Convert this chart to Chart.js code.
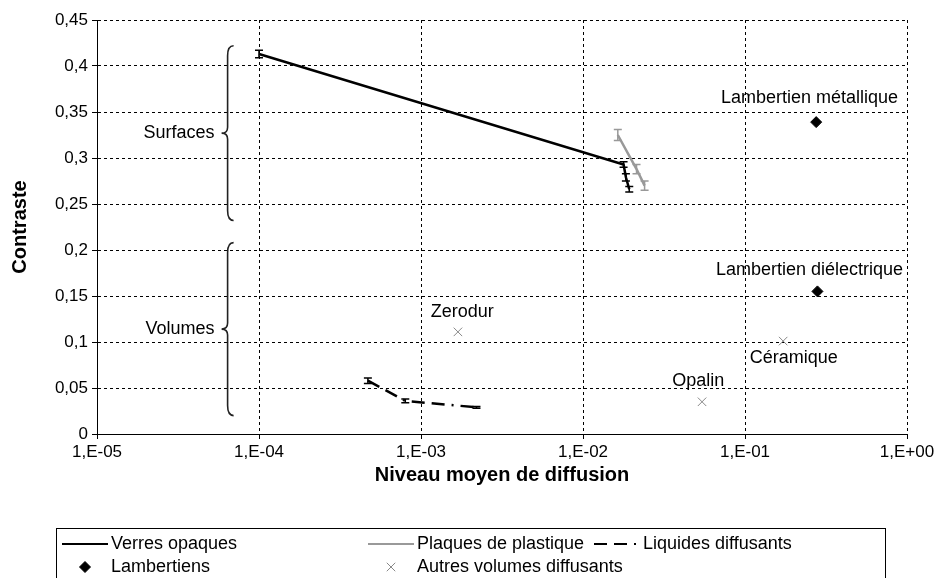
<!DOCTYPE html>
<html>
<head>
<meta charset="utf-8">
<script src="https://cdn.jsdelivr.net/npm/chart.js@4.4.0/dist/chart.umd.min.js"></script>
<style>
  html, body { margin: 0; padding: 0; background: #fff; }
  #wrap { width: 941px; height: 578px; position: relative; }
</style>
</head>
<body>
<div id="wrap"><canvas id="chart"></canvas></div>
<script>
// series values (x = niveau moyen de diffusion, y = contraste)
const verresX = [1.0e-4, 0.0178, 0.0184, 0.0193];
const verresY = [0.413, 0.293, 0.279, 0.266];
const verresErr = [0.004, 0.003, 0.004, 0.003];

const plastiqueX = [0.0164, 0.0214, 0.0240];
const plastiqueY = [0.325, 0.288, 0.270];
const plastiqueErr = [0.006, 0.005, 0.005];

const liquidesX = [4.7e-4, 8.0e-4, 2.2e-3];
const liquidesY = [0.058, 0.036, 0.029];
const liquidesErr = [0.003, 0.002, 0.001];

const lambertX = [0.275, 0.28];
const lambertY = [0.339, 0.155];

const autresX = [1.69e-3, 0.172, 0.0543];
const autresY = [0.111, 0.101, 0.035];

const xTicks = [1e-5, 1e-4, 1e-3, 1e-2, 1e-1, 1];
const yMax = 0.45;

// annotation text: [label, x, y]
const pointLabels = [
  ['Lambertien métallique', 0.25, 0.365],
  ['Lambertien diélectrique', 0.25, 0.178],
  ['Zerodur', 1.8e-3, 0.133],
  ['Céramique', 0.2, 0.083],
  ['Opalin', 0.0515, 0.058]
];
const groups = [
  ['Surfaces', 6.4e-5, 0.422, 0.232],
  ['Volumes', 6.4e-5, 0.208, 0.020]
];

const FONT = '"Liberation Sans", Arial, sans-serif';
const GREY = '#999999';
const DASH_LIQ = [13, 7, 13, 7, 2, 7];

function pts(xs, ys) { return xs.map((x, i) => ({ x, y: ys[i] })); }

const datasets = [
  { label: 'Verres opaques', data: pts(verresX, verresY), err: verresErr,
    showLine: true, borderColor: '#000', borderWidth: 2.5, pointRadius: 0 },
  { label: 'Plaques de plastique', data: pts(plastiqueX, plastiqueY), err: plastiqueErr,
    showLine: true, borderColor: GREY, borderWidth: 2.5, pointRadius: 0 },
  { label: 'Liquides diffusants', data: pts(liquidesX, liquidesY), err: liquidesErr,
    showLine: true, borderColor: '#000', borderWidth: 2.5, borderDash: DASH_LIQ, pointRadius: 0 },
  { label: 'Lambertiens', data: pts(lambertX, lambertY), showLine: false,
    pointStyle: 'rectRot', pointRadius: 5.5, backgroundColor: '#000', borderColor: '#000' },
  { label: 'Autres volumes diffusants', data: pts(autresX, autresY), showLine: false,
    pointStyle: 'cross', rotation: 45, pointRadius: 6, borderWidth: 1, borderColor: '#888', backgroundColor: '#888' }
];

function fmtX(v) {
  const e = Math.round(Math.log10(v));
  return '1,E' + (e < 0 ? '-' : '+') + String(Math.abs(e)).padStart(2, '0');
}

const errorBars = {
  id: 'errorBars',
  afterDatasetsDraw(chart) {
    const ctx = chart.ctx, xs = chart.scales.x, ys = chart.scales.y;
    ctx.save();
    chart.data.datasets.forEach(ds => {
      if (!ds.err) return;
      ctx.strokeStyle = ds.borderColor;
      ctx.lineWidth = 1.5;
      ds.data.forEach((p, i) => {
        const px = xs.getPixelForValue(p.x);
        const y1 = ys.getPixelForValue(p.y + ds.err[i]);
        const y2 = ys.getPixelForValue(p.y - ds.err[i]);
        ctx.beginPath();
        ctx.moveTo(px, y1); ctx.lineTo(px, y2);
        ctx.moveTo(px - 4, y1); ctx.lineTo(px + 4, y1);
        ctx.moveTo(px - 4, y2); ctx.lineTo(px + 4, y2);
        ctx.stroke();
      });
    });
    ctx.restore();
  }
};

function brace(ctx, x, top, bot) {
  const mid = (top + bot) / 2, w = 6;
  ctx.beginPath();
  ctx.moveTo(x + w, top);
  ctx.quadraticCurveTo(x, top, x, top + 10);
  ctx.lineTo(x, mid - 6);
  ctx.quadraticCurveTo(x, mid, x - w, mid);
  ctx.quadraticCurveTo(x, mid, x, mid + 6);
  ctx.lineTo(x, bot - 10);
  ctx.quadraticCurveTo(x, bot, x + w, bot);
  ctx.stroke();
}

const annotations = {
  id: 'annotations',
  afterDraw(chart) {
    const ctx = chart.ctx, xs = chart.scales.x, ys = chart.scales.y;
    ctx.save();
    ctx.fillStyle = '#000';
    ctx.font = '18px ' + FONT;
    ctx.textBaseline = 'middle';
    ctx.textAlign = 'center';
    pointLabels.forEach(([t, x, y]) => {
      ctx.fillText(t, xs.getPixelForValue(x), ys.getPixelForValue(y));
    });
    ctx.strokeStyle = '#222';
    ctx.lineWidth = 1.6;
    groups.forEach(([t, x, top, bot]) => {
      const px = xs.getPixelForValue(x);
      const t1 = ys.getPixelForValue(top), b1 = ys.getPixelForValue(bot);
      brace(ctx, px, t1, b1);
      ctx.textAlign = 'right';
      ctx.fillText(t, px - 13, (t1 + b1) / 2);
    });

    // legend
    const L = 56, R = 885, T = 528;
    ctx.strokeStyle = '#000';
    ctx.lineWidth = 1;
    ctx.strokeRect(L + 0.5, T + 0.5, R - L, 80);
    const cols = [62, 368, 594];
    const rows = [544, 567];
    ctx.textAlign = 'left';
    chart.data.datasets.forEach((ds, i) => {
      const cx = cols[i % 3], cy = rows[Math.floor(i / 3)];
      ctx.save();
      if (ds.showLine) {
        ctx.strokeStyle = ds.borderColor;
        ctx.lineWidth = 2;
        ctx.setLineDash(ds.borderDash || []);
        ctx.beginPath();
        ctx.moveTo(cx, cy); ctx.lineTo(cx + 46, cy);
        ctx.stroke();
      } else {
        ctx.fillStyle = ds.backgroundColor;
        ctx.strokeStyle = ds.borderColor;
        Chart.helpers.drawPoint(ctx, {
          pointStyle: ds.pointStyle, radius: ds.pointRadius, rotation: ds.rotation || 0,
          borderWidth: ds.borderWidth || 1
        }, cx + 23, cy);
      }
      ctx.restore();
      ctx.fillText(ds.label, cx + 49, cy);
    });
    ctx.restore();
  }
};

new Chart(document.getElementById('chart'), {
  type: 'scatter',
  data: { datasets },
  options: {
    responsive: true,
    maintainAspectRatio: false,
    animation: false,
    layout: { padding: { top: 20, right: 34, left: 8, bottom: 91 } },
    plugins: { legend: { display: false }, tooltip: { enabled: false } },
    elements: { line: { tension: 0 } },
    scales: {
      x: {
        type: 'logarithmic',
        min: 1e-5, max: 1,
        afterBuildTicks(scale) { scale.ticks = xTicks.map(v => ({ value: v, major: true })); },
        afterFit(scale) { scale.height = 53; },
        ticks: { color: '#000', font: { family: FONT, size: 17 }, maxRotation: 0, padding: 3,
          callback: v => fmtX(v) },
        grid: { color: '#000', tickBorderDash: [], tickLength: 5, tickColor: '#000' },
        border: { color: '#000', width: 1, dash: [3, 3] },
        title: { display: true, text: 'Niveau moyen de diffusion', color: '#000',
          font: { family: FONT, size: 20, weight: 'bold' }, padding: { top: 4, bottom: 0 } }
      },
      y: {
        min: 0, max: yMax,
        afterFit(scale) { scale.width = 89; },
        ticks: { stepSize: 0.05, color: '#000', font: { family: FONT, size: 17 }, padding: 4,
          callback: v => String(+v.toFixed(2)).replace('.', ',') },
        grid: { color: '#000', tickBorderDash: [], tickLength: 5, tickColor: '#000' },
        border: { color: '#000', width: 1, dash: [3, 3] },
        title: { display: true, text: 'Contraste', color: '#000',
          font: { family: FONT, size: 20, weight: 'bold' }, padding: { top: 0, bottom: 4 } }
      }
    }
  },
  plugins: [errorBars, annotations]
});
</script>
</body>
</html>
